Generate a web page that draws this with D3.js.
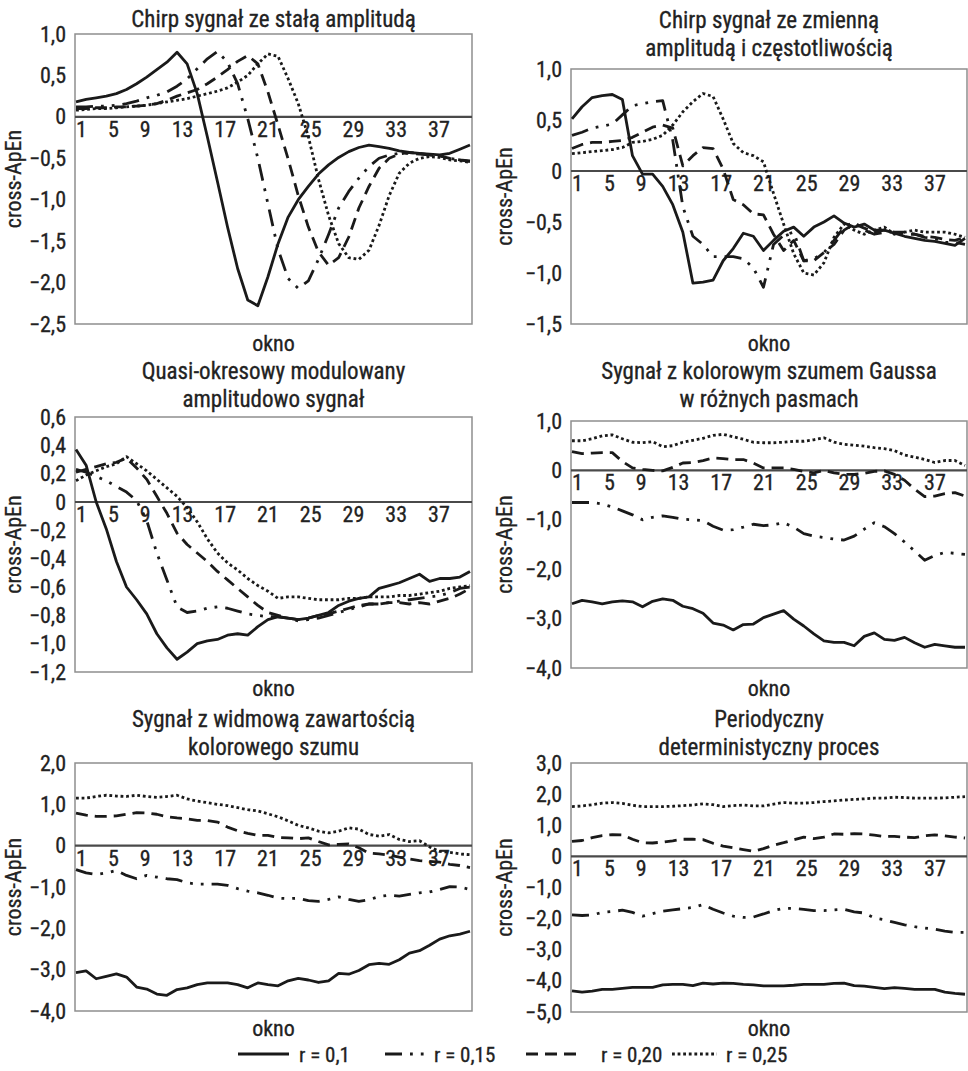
<!DOCTYPE html>
<html>
<head>
<meta charset="utf-8">
<script src="https://cdn.jsdelivr.net/npm/d3@7"></script>
<style>
  html, body { margin: 0; padding: 0; background: #fff; }
  svg { display: block; }
  svg text { stroke: #222; stroke-width: 0.3px; }
</style>
</head>
<body>
<svg id="chart" width="968" height="1071"></svg>
<script>
// ---------------- data ----------------
const windows = [1,2,3,4,5,6,7,8,9,10,11,12,13,14,15,16,17,18,19,20,
                 21,22,23,24,25,26,27,28,29,30,31,32,33,34,35,36,37,38,39,40];
const windowTickLabels = [1,5,9,13,17,21,25,29,33,37];
const seriesNames = ["r = 0,1", "r = 0,15", "r = 0,20", "r = 0,25"];

// Chirp signal, constant amplitude
const chirpConstR010 = [0.18,0.21,0.23,0.25,0.28,0.33,0.40,0.48,0.57,0.66,0.78,0.64,0.28,-0.24,-0.78,-1.33,-1.83,-2.21,-2.28,-1.93,-1.53,-1.21,-1.00,-0.84,-0.69,-0.58,-0.49,-0.42,-0.37,-0.34,-0.36,-0.38,-0.41,-0.43,-0.44,-0.45,-0.46,-0.44,-0.39,-0.34];
const chirpConstR015 = [0.12,0.12,0.13,0.13,0.14,0.16,0.19,0.23,0.26,0.30,0.37,0.46,0.58,0.70,0.79,0.66,0.40,-0.02,-0.50,-1.05,-1.60,-1.95,-2.07,-1.98,-1.72,-1.42,-1.10,-0.90,-0.74,-0.60,-0.50,-0.46,-0.44,-0.44,-0.45,-0.46,-0.47,-0.50,-0.52,-0.53];
const chirpConstR020 = [0.10,0.10,0.11,0.11,0.12,0.12,0.13,0.14,0.16,0.20,0.25,0.29,0.33,0.40,0.48,0.57,0.67,0.74,0.64,0.30,-0.10,-0.51,-0.95,-1.33,-1.63,-1.79,-1.70,-1.45,-1.10,-0.84,-0.62,-0.50,-0.45,-0.43,-0.44,-0.46,-0.47,-0.50,-0.52,-0.54];
const chirpConstR025 = [0.08,0.09,0.10,0.10,0.11,0.12,0.13,0.14,0.16,0.18,0.20,0.22,0.25,0.28,0.31,0.35,0.42,0.50,0.64,0.76,0.73,0.46,0.16,-0.24,-0.75,-1.19,-1.53,-1.70,-1.72,-1.61,-1.31,-0.95,-0.68,-0.56,-0.50,-0.48,-0.49,-0.52,-0.53,-0.55];

// Chirp signal, varying amplitude and frequency
const chirpVarR010 = [0.51,0.63,0.72,0.74,0.75,0.70,0.15,-0.03,-0.03,-0.15,-0.33,-0.60,-1.10,-1.09,-1.07,-0.88,-0.76,-0.61,-0.64,-0.78,-0.68,-0.59,-0.55,-0.64,-0.55,-0.50,-0.44,-0.51,-0.55,-0.52,-0.58,-0.58,-0.61,-0.64,-0.66,-0.68,-0.69,-0.71,-0.73,-0.66];
const chirpVarR015 = [0.35,0.38,0.42,0.44,0.46,0.55,0.64,0.66,0.68,0.69,0.30,-0.35,-0.64,-0.72,-0.84,-0.84,-0.84,-0.86,-0.95,-1.14,-0.72,-0.63,-0.60,-0.88,-0.86,-0.80,-0.68,-0.55,-0.50,-0.58,-0.62,-0.60,-0.60,-0.62,-0.62,-0.65,-0.66,-0.70,-0.70,-0.72];
const chirpVarR020 = [0.22,0.26,0.28,0.28,0.29,0.30,0.33,0.38,0.43,0.45,0.42,0.05,0.15,0.23,0.22,0.02,-0.28,-0.33,-0.42,-0.43,-0.62,-0.78,-0.68,-0.88,-0.88,-0.80,-0.72,-0.58,-0.52,-0.56,-0.60,-0.58,-0.60,-0.60,-0.62,-0.64,-0.65,-0.67,-0.68,-0.65];
const chirpVarR025 = [0.17,0.18,0.19,0.20,0.21,0.23,0.28,0.29,0.31,0.35,0.45,0.58,0.68,0.76,0.73,0.51,0.27,0.18,0.15,0.09,-0.22,-0.52,-0.81,-1.00,-1.02,-0.90,-0.65,-0.52,-0.58,-0.62,-0.58,-0.55,-0.62,-0.60,-0.58,-0.60,-0.60,-0.60,-0.62,-0.65];

// Quasi-periodic amplitude-modulated signal
const quasiR010 = [0.37,0.26,0.00,-0.19,-0.42,-0.60,-0.69,-0.79,-0.93,-1.03,-1.11,-1.06,-1.00,-0.98,-0.97,-0.94,-0.93,-0.94,-0.88,-0.83,-0.81,-0.82,-0.83,-0.82,-0.80,-0.78,-0.73,-0.70,-0.68,-0.67,-0.61,-0.59,-0.57,-0.54,-0.51,-0.56,-0.54,-0.54,-0.53,-0.49];
const quasiR015 = [0.23,0.21,0.18,0.15,0.11,0.07,0.01,-0.13,-0.36,-0.55,-0.74,-0.78,-0.77,-0.75,-0.74,-0.75,-0.77,-0.79,-0.80,-0.81,-0.81,-0.82,-0.84,-0.83,-0.82,-0.80,-0.78,-0.76,-0.74,-0.72,-0.72,-0.71,-0.70,-0.69,-0.68,-0.67,-0.66,-0.64,-0.61,-0.60];
const quasiR020 = [0.21,0.23,0.25,0.27,0.28,0.31,0.24,0.16,0.04,-0.08,-0.22,-0.30,-0.36,-0.42,-0.49,-0.55,-0.61,-0.67,-0.73,-0.78,-0.80,-0.82,-0.83,-0.82,-0.80,-0.79,-0.77,-0.75,-0.73,-0.72,-0.72,-0.71,-0.71,-0.72,-0.71,-0.72,-0.70,-0.68,-0.65,-0.61];
const quasiR025 = [0.15,0.19,0.22,0.25,0.27,0.32,0.27,0.22,0.16,0.10,0.04,-0.04,-0.14,-0.26,-0.36,-0.43,-0.48,-0.54,-0.59,-0.63,-0.68,-0.67,-0.67,-0.68,-0.69,-0.69,-0.69,-0.68,-0.68,-0.67,-0.67,-0.67,-0.66,-0.66,-0.65,-0.64,-0.63,-0.61,-0.60,-0.59];

// Signal with coloured Gaussian noise in different bands
const gaussR010 = [-2.70,-2.63,-2.66,-2.70,-2.66,-2.64,-2.66,-2.76,-2.65,-2.60,-2.63,-2.75,-2.80,-2.89,-3.09,-3.13,-3.23,-3.12,-3.11,-2.98,-2.91,-2.84,-3.01,-3.15,-3.31,-3.45,-3.48,-3.48,-3.55,-3.36,-3.29,-3.42,-3.44,-3.38,-3.49,-3.58,-3.52,-3.55,-3.58,-3.58];
const gaussR015 = [-0.65,-0.65,-0.65,-0.68,-0.74,-0.82,-0.90,-1.00,-0.95,-0.92,-0.95,-0.99,-1.00,-1.02,-1.13,-1.21,-1.20,-1.15,-1.09,-1.12,-1.10,-1.06,-1.15,-1.28,-1.33,-1.36,-1.39,-1.41,-1.33,-1.19,-1.06,-1.14,-1.28,-1.45,-1.63,-1.82,-1.72,-1.66,-1.68,-1.70];
const gaussR020 = [0.38,0.34,0.35,0.36,0.36,0.18,0.05,0.02,0.00,-0.01,0.06,0.15,0.16,0.20,0.25,0.24,0.22,0.22,0.15,0.05,0.05,0.05,0.02,-0.02,-0.05,0.00,-0.05,-0.08,-0.08,-0.06,-0.02,-0.01,-0.08,-0.20,-0.38,-0.53,-0.52,-0.47,-0.45,-0.52];
const gaussR025 = [0.60,0.60,0.64,0.70,0.72,0.64,0.57,0.56,0.58,0.48,0.50,0.57,0.61,0.65,0.71,0.73,0.68,0.63,0.57,0.56,0.56,0.57,0.59,0.59,0.62,0.66,0.57,0.53,0.51,0.49,0.46,0.44,0.40,0.31,0.27,0.22,0.16,0.20,0.20,0.10];

// Signal with spectral content of coloured noise
const spectralR010 = [-3.07,-3.03,-3.22,-3.16,-3.10,-3.18,-3.42,-3.47,-3.59,-3.62,-3.48,-3.44,-3.36,-3.32,-3.32,-3.32,-3.36,-3.44,-3.32,-3.36,-3.39,-3.27,-3.21,-3.25,-3.31,-3.27,-3.09,-3.11,-3.02,-2.88,-2.85,-2.87,-2.76,-2.60,-2.54,-2.41,-2.26,-2.18,-2.14,-2.07];
const spectralR015 = [-0.58,-0.66,-0.70,-0.66,-0.60,-0.72,-0.80,-0.72,-0.76,-0.80,-0.82,-0.90,-0.93,-0.93,-0.93,-0.96,-1.04,-1.10,-1.14,-1.20,-1.27,-1.28,-1.27,-1.33,-1.35,-1.30,-1.24,-1.30,-1.35,-1.31,-1.23,-1.20,-1.22,-1.18,-1.14,-1.12,-1.06,-0.99,-1.00,-1.06];
const spectralR020 = [0.79,0.74,0.71,0.71,0.72,0.76,0.80,0.79,0.76,0.70,0.67,0.65,0.61,0.61,0.57,0.45,0.36,0.30,0.25,0.25,0.20,0.19,0.17,0.19,0.10,0.02,0.03,0.04,-0.05,-0.18,-0.20,-0.23,-0.28,-0.32,-0.36,-0.38,-0.40,-0.45,-0.48,-0.53];
const spectralR025 = [1.15,1.15,1.19,1.22,1.20,1.19,1.22,1.19,1.17,1.19,1.22,1.13,1.08,1.04,1.00,0.97,0.92,0.87,0.84,0.77,0.70,0.60,0.49,0.43,0.35,0.31,0.35,0.43,0.40,0.27,0.23,0.27,0.15,0.10,0.12,-0.03,-0.14,-0.16,-0.20,-0.22];

// Periodic deterministic process
const periodicR010 = [-4.32,-4.36,-4.33,-4.27,-4.27,-4.24,-4.21,-4.21,-4.21,-4.13,-4.11,-4.11,-4.15,-4.07,-4.10,-4.07,-4.08,-4.11,-4.13,-4.16,-4.16,-4.16,-4.14,-4.11,-4.11,-4.11,-4.08,-4.07,-4.15,-4.17,-4.21,-4.25,-4.22,-4.24,-4.27,-4.27,-4.27,-4.36,-4.40,-4.43];
const periodicR015 = [-1.88,-1.90,-1.88,-1.80,-1.77,-1.73,-1.80,-1.92,-1.84,-1.76,-1.72,-1.68,-1.64,-1.55,-1.70,-1.82,-1.92,-1.96,-1.95,-1.85,-1.74,-1.67,-1.67,-1.70,-1.74,-1.74,-1.72,-1.70,-1.78,-1.82,-1.98,-2.04,-2.12,-2.20,-2.26,-2.30,-2.34,-2.40,-2.44,-2.44];
const periodicR020 = [0.48,0.51,0.60,0.67,0.70,0.69,0.55,0.44,0.43,0.46,0.50,0.55,0.55,0.54,0.42,0.33,0.28,0.22,0.16,0.25,0.36,0.44,0.53,0.62,0.57,0.62,0.72,0.71,0.73,0.72,0.68,0.64,0.64,0.62,0.60,0.66,0.69,0.66,0.62,0.59];
const periodicR025 = [1.60,1.62,1.66,1.71,1.73,1.70,1.64,1.60,1.60,1.60,1.61,1.63,1.65,1.69,1.66,1.60,1.63,1.65,1.62,1.62,1.68,1.73,1.71,1.71,1.73,1.76,1.78,1.81,1.83,1.85,1.87,1.87,1.90,1.89,1.87,1.87,1.87,1.88,1.90,1.92];

// y-axis ticks per panel
const ticksChirpConst = [1.0, 0.5, 0, -0.5, -1.0, -1.5, -2.0, -2.5];
const ticksChirpVar   = [1.0, 0.5, 0, -0.5, -1.0, -1.5];
const ticksQuasi      = [0.6, 0.4, 0.2, 0, -0.2, -0.4, -0.6, -0.8, -1.0, -1.2];
const ticksGauss      = [1, 0, -1, -2, -3, -4];
const ticksSpectral   = [2, 1, 0, -1, -2, -3, -4];
const ticksPeriodic   = [3, 2, 1, 0, -1, -2, -3, -4, -5];

const titles = [
  ["Chirp sygnał ze stałą amplitudą"],
  ["Chirp sygnał ze zmienną", "amplitudą i częstotliwością"],
  ["Quasi-okresowy modulowany", "amplitudowo sygnał"],
  ["Sygnał z kolorowym szumem Gaussa", "w różnych pasmach"],
  ["Sygnał z widmową zawartością", "kolorowego szumu"],
  ["Periodyczny", "deterministyczny proces"]
];
const xAxisTitle = "okno";
const yAxisTitle = "cross-ApEn";

// ---------------- layout & style ----------------
const FONT = "'Liberation Sans Narrow', 'Arial Narrow', 'Roboto Condensed', 'DejaVu Sans Condensed', sans-serif";
const TEXT_COLOR = "#222";
const LINE_COLOR = "#1a1a1a";
const FONT_SIZE = 21;

const layout = [
  { left: 75,  right: 472, top: 34,  bottom: 324,  titleBase: 27,  oknoBase: 351,  yTitleX: 21 },
  { left: 571, right: 967, top: 69,  bottom: 324,  titleBase: 28,  oknoBase: 351,  yTitleX: 512 },
  { left: 75,  right: 472, top: 417, bottom: 672,  titleBase: 379, oknoBase: 696,  yTitleX: 21 },
  { left: 571, right: 967, top: 421, bottom: 668,  titleBase: 379, oknoBase: 696,  yTitleX: 512 },
  { left: 75,  right: 472, top: 763, bottom: 1011, titleBase: 727, oknoBase: 1036, yTitleX: 21 },
  { left: 571, right: 967, top: 763, bottom: 1012, titleBase: 727, oknoBase: 1036, yTitleX: 512 }
];
const titleLineGap = 28;

const lineStyles = [
  { dash: null,                      width: 2.8 },
  { dash: "17,8,2.8,8,2.8,8",        width: 2.8 },
  { dash: "12,7",                    width: 2.8 },
  { dash: "2.8,2.8",                 width: 2.8 }
];

const panels = [
  { ticks: ticksChirpConst, series: [chirpConstR010, chirpConstR015, chirpConstR020, chirpConstR025] },
  { ticks: ticksChirpVar,   series: [chirpVarR010, chirpVarR015, chirpVarR020, chirpVarR025] },
  { ticks: ticksQuasi,      series: [quasiR010, quasiR015, quasiR020, quasiR025] },
  { ticks: ticksGauss,      series: [gaussR010, gaussR015, gaussR020, gaussR025] },
  { ticks: ticksSpectral,   series: [spectralR010, spectralR015, spectralR020, spectralR025] },
  { ticks: ticksPeriodic,   series: [periodicR010, periodicR015, periodicR020, periodicR025] }
];

const fmt = v => v === 0 ? "0" : (v < 0 ? "\u2212" : "") + Math.abs(v).toFixed(1).replace(".", ",");

// ---------------- drawing ----------------
const svg = d3.select("#chart");
svg.append("rect").attr("width", 968).attr("height", 1071).attr("fill", "#fff");

panels.forEach((p, i) => {
  const L = layout[i];
  const g = svg.append("g");
  const yDomain = d3.extent(p.ticks);

  const x = d3.scalePoint().domain(windows).range([L.left + 1, L.right - 2]);
  const y = d3.scaleLinear().domain(yDomain).range([L.bottom, L.top]);

  // plot frame
  g.append("rect")
    .attr("x", L.left).attr("y", L.top)
    .attr("width", L.right - L.left).attr("height", L.bottom - L.top)
    .attr("fill", "none").attr("stroke", "#8e8e8e").attr("stroke-width", 1.5);

  // zero line
  g.append("line")
    .attr("x1", L.left).attr("x2", L.right)
    .attr("y1", y(0)).attr("y2", y(0))
    .attr("stroke", "#4a4a4a").attr("stroke-width", 2.2);

  // y axis
  const yAxis = d3.axisLeft(y).tickValues(p.ticks).tickSize(0).tickPadding(9).tickFormat(fmt);
  const ya = g.append("g").attr("transform", `translate(${L.left},0)`).call(yAxis);
  ya.select(".domain").remove();
  ya.attr("font-family", FONT).attr("font-size", FONT_SIZE + 1);
  ya.selectAll("text").attr("fill", TEXT_COLOR);

  // x tick labels, set along the zero line
  const xl = g.append("g").attr("font-family", FONT).attr("font-size", FONT_SIZE + 1).attr("fill", TEXT_COLOR);
  let cursor = L.left + 1;
  windowTickLabels.forEach(w => {
    const t = xl.append("text").attr("x", cursor).attr("y", y(0) + 20).text(w);
    cursor += t.node().getComputedTextLength() + 21;
  });

  // series lines
  const line = d3.line().x(d => x(d.w)).y(d => y(d.v));
  p.series.forEach((vals, s) => {
    const pts = windows.map((w, k) => ({ w, v: vals[k] }));
    g.append("path")
      .datum(pts)
      .attr("d", line)
      .attr("fill", "none")
      .attr("stroke", LINE_COLOR)
      .attr("stroke-width", lineStyles[s].width)
      .attr("stroke-linejoin", "round")
      .attr("stroke-dasharray", lineStyles[s].dash);
  });

  // titles
  const cx = (L.left + L.right) / 2;
  titles[i].forEach((t, k) => {
    g.append("text")
      .attr("x", cx).attr("y", L.titleBase + k * titleLineGap)
      .attr("text-anchor", "middle")
      .attr("font-family", FONT).attr("font-size", FONT_SIZE + 2)
      .attr("fill", TEXT_COLOR)
      .text(t);
  });

  // axis titles
  g.append("text")
    .attr("x", cx).attr("y", L.oknoBase)
    .attr("text-anchor", "middle")
    .attr("font-family", FONT).attr("font-size", FONT_SIZE + 1)
    .attr("fill", TEXT_COLOR)
    .text(xAxisTitle);

  g.append("text")
    .attr("transform", `translate(${L.yTitleX},${(L.top + L.bottom) / 2}) rotate(-90)`)
    .attr("text-anchor", "middle")
    .attr("font-family", FONT).attr("font-size", FONT_SIZE + 1)
    .attr("fill", TEXT_COLOR)
    .text(yAxisTitle);
});

// legend
const legendY = 1054;
const legendItems = [
  { x0: 238, x1: 289, tx: 299 },
  { x0: 385, x1: 428, tx: 434 },
  { x0: 526, x1: 583, tx: 601 },
  { x0: 672, x1: 717, tx: 726 }
];
const lg = svg.append("g");
seriesNames.forEach((name, s) => {
  const it = legendItems[s];
  lg.append("line")
    .attr("x1", it.x0).attr("x2", it.x1)
    .attr("y1", legendY).attr("y2", legendY)
    .attr("stroke", LINE_COLOR)
    .attr("stroke-width", 3)
    .attr("stroke-dasharray", lineStyles[s].dash);
  lg.append("text")
    .attr("x", it.tx).attr("y", legendY + 7.5)
    .attr("font-family", FONT).attr("font-size", FONT_SIZE)
    .attr("fill", TEXT_COLOR)
    .text(name);
});
</script>
</body>
</html>
